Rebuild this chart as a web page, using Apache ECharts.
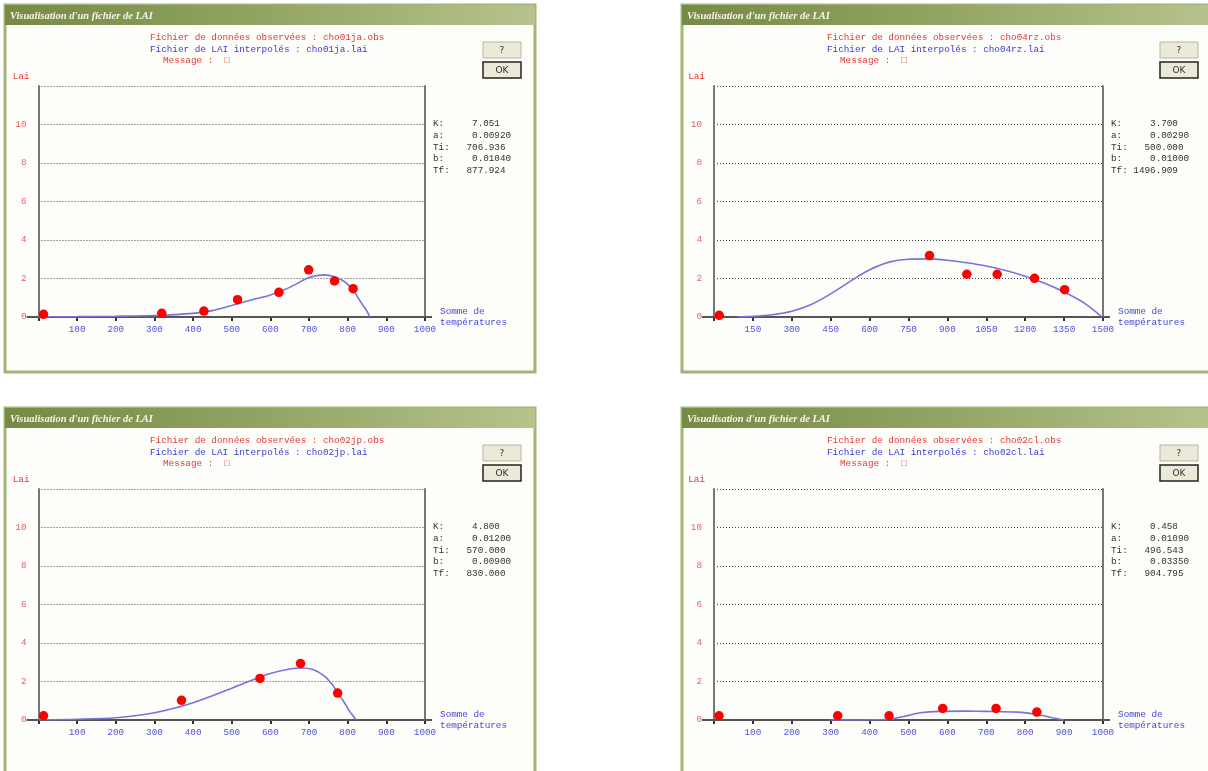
<!DOCTYPE html>
<html>
<head>
<meta charset="utf-8">
<title>Visualisation d'un fichier de LAI</title>
<script src="https://cdn.jsdelivr.net/npm/echarts@6/dist/echarts.min.js"></script>
<style>
  html, body { margin: 0; padding: 0; background: #fff; }
  #main { width: 1208px; height: 771px; }
</style>
</head>
<body>
<div id="main"></div>
<script>
// --- observed LAI (points) : somme de températures / lai ---
const obsT1 = [13, 319, 428, 515, 622, 699, 766, 814];
const obsLai1 = [0.14, 0.19, 0.31, 0.90, 1.28, 2.45, 1.87, 1.47];
const obsT2 = [20, 831, 975, 1092, 1236, 1352];
const obsLai2 = [0.09, 3.19, 2.22, 2.22, 2.01, 1.42];
const obsT3 = [13, 370, 573, 678, 774];
const obsLai3 = [0.22, 1.02, 2.16, 2.93, 1.40];
const obsT4 = [13, 318, 450, 588, 725, 830];
const obsLai4 = [0.22, 0.22, 0.22, 0.60, 0.60, 0.41];

// --- interpolated LAI (curve) ---
const curveT1 = [0, 100, 200, 300, 400, 450, 500, 550, 600, 650, 700, 738, 766, 792, 814, 836, 850, 857];
const curveLai1 = [0.01, 0.02, 0.04, 0.08, 0.19, 0.33, 0.6, 0.88, 1.14, 1.54, 2.05, 2.19, 2.09, 1.83, 1.4, 0.71, 0.3, 0];
const curveT2 = [90, 150, 225, 300, 375, 450, 525, 600, 675, 750, 825, 900, 975, 1050, 1125, 1200, 1275, 1350, 1425, 1497];
const curveLai2 = [0, 0.03, 0.12, 0.3, 0.65, 1.2, 1.85, 2.45, 2.85, 3.0, 3.02, 2.95, 2.82, 2.65, 2.42, 2.12, 1.75, 1.3, 0.75, 0];
const curveT3 = [0, 100, 200, 300, 400, 500, 550, 600, 650, 680, 710, 740, 760, 775, 790, 805, 815, 822];
const curveLai3 = [0.01, 0.04, 0.12, 0.38, 0.9, 1.65, 2.05, 2.42, 2.65, 2.7, 2.62, 2.28, 1.84, 1.4, 0.95, 0.45, 0.2, 0];
const curveT4 = [300, 350, 400, 450, 500, 530, 580, 650, 700, 780, 830, 870, 900];
const curveLai4 = [0, 0, 0.01, 0.04, 0.24, 0.38, 0.45, 0.46, 0.45, 0.41, 0.29, 0.12, 0];

// --- axes ---
const xMax = [1000, 1500, 1000, 1000];
const xStep = [100, 150, 100, 100];
const yMax = 12;
const yStep = 2;

// --- texts ---
const obsFiles = ['cho01ja.obs', 'cho04rz.obs', 'cho02jp.obs', 'cho02cl.obs'];
const laiFiles = ['cho01ja.lai', 'cho04rz.lai', 'cho02jp.lai', 'cho02cl.lai'];
const paramNames = ['K:', 'a:', 'Ti:', 'b:', 'Tf:'];
const params1 = ['7.051', '0.00920', '706.936', '0.01040', '877.924'];
const params2 = ['3.700', '0.00290', '500.000', '0.01000', '1496.909'];
const params3 = ['4.800', '0.01200', '570.000', '0.00900', '830.000'];
const params4 = ['0.458', '0.01090', '496.543', '0.03350', '904.795'];

const obsT = [obsT1, obsT2, obsT3, obsT4];
const obsLai = [obsLai1, obsLai2, obsLai3, obsLai4];
const curveT = [curveT1, curveT2, curveT3, curveT4];
const curveLai = [curveLai1, curveLai2, curveLai3, curveLai4];
const params = [params1, params2, params3, params4];

// window placement (dialog box, plot box)
const PANELS = [
  { x: 5, y: 5, left: 38.5, width: 386.5 },
  { x: 682, y: 5, left: 714, width: 389 },
  { x: 5, y: 408, left: 38.5, width: 386.5 },
  { x: 682, y: 408, left: 714, width: 389 }
];
const PLOT_TOP = 81;
const PLOT_H = 231;

const MONO = '"Liberation Mono", "DejaVu Sans Mono", monospace';
const RED = '#e03a3a';
const BLUE = '#3a3ad8';

const zip = (a, b) => a.map((v, i) => [v, b[i]]);

const paramLine = (name, val) => {
  let pad = name.length === 2 ? 5 : 3;
  if (val.length > 7) pad = 1;
  return name + ' '.repeat(pad) + val;
};

const grids = [], xAxes = [], yAxes = [], series = [], graphics = [];

PANELS.forEach((p, i) => {
  const top = p.y + PLOT_TOP;
  grids.push({ left: p.left, top: top, width: p.width, height: PLOT_H, containLabel: false });

  xAxes.push({
    gridIndex: i, type: 'value', min: 0, max: xMax[i], interval: xStep[i],
    axisLine: { onZero: false, lineStyle: { color: '#555', width: 2 } },
    axisTick: { show: true, length: 4, lineStyle: { color: '#333', width: 2 } },
    axisLabel: {
      color: '#5252e0', fontFamily: MONO, fontSize: 9.3, margin: 8,
      formatter: v => (v === 0 ? '' : String(v))
    },
    splitLine: { show: false },
    name: 'Somme de\ntempératures', nameLocation: 'end', nameGap: 8,
    nameTextStyle: {
      color: '#4646e0', fontFamily: MONO, fontSize: 9.3, lineHeight: 11.5,
      align: 'left', verticalAlign: 'middle', padding: [0, 0, 14, 0]
    }
  });

  yAxes.push({
    gridIndex: i, type: 'value', min: 0, max: yMax, interval: yStep,
    axisLine: { show: true, onZero: false, lineStyle: { color: '#777', width: 2 } },
    axisTick: { show: false },
    axisLabel: {
      color: '#e8606a', fontFamily: MONO, fontSize: 9.3, margin: 12,
      formatter: v => (v === yMax ? '' : String(v))
    },
    splitLine: { show: true, lineStyle: { color: '#444', width: 1, type: [1, 2] } },
    name: 'Lai', nameLocation: 'end', nameGap: 5,
    nameTextStyle: { color: RED, fontFamily: MONO, fontSize: 9.3, align: 'right', padding: [0, 9, 0, 0] }
  });
  yAxes.push({
    gridIndex: i, type: 'value', min: 0, max: yMax, interval: yStep, position: 'right',
    axisLine: { show: true, onZero: false, lineStyle: { color: '#777', width: 2 } },
    axisTick: { show: false }, axisLabel: { show: false }, splitLine: { show: false }
  });

  series.push({
    type: 'line', xAxisIndex: i, yAxisIndex: 2 * i,
    data: zip(curveT[i], curveLai[i]),
    smooth: 0.3, showSymbol: false, silent: true,
    lineStyle: { color: '#7474dc', width: 1.6 }, z: 3
  });
  series.push({
    type: 'scatter', xAxisIndex: i, yAxisIndex: 2 * i,
    data: zip(obsT[i], obsLai[i]),
    symbolSize: 9.5, itemStyle: { color: '#ff0000', opacity: 1 }, z: 4
  });

  // dialog window
  graphics.push({
    type: 'rect', z: -10,
    shape: { x: p.x, y: p.y, width: 530, height: 367 },
    style: { fill: '#fdfdf9', stroke: '#a3b478', lineWidth: 3 }
  });
  graphics.push({
    type: 'rect', z: -9,
    shape: { x: p.x, y: p.y, width: 530, height: 20 },
    style: {
      fill: new echarts.graphic.LinearGradient(0, 0, 1, 0, [
        { offset: 0, color: '#748a45' }, { offset: 0.5, color: '#93a564' }, { offset: 1, color: '#b6c38d' }
      ])
    }
  });
  graphics.push({
    type: 'text', z: 10, x: p.x + 5, y: p.y + 11,
    style: {
      text: "Visualisation d'un fichier de LAI", fill: '#f6f6e6',
      font: 'italic bold 10.5px "Liberation Serif", serif', verticalAlign: 'middle',
      shadowColor: '#3c481c', shadowBlur: 1, shadowOffsetX: 1, shadowOffsetY: 1
    }
  });

  // header lines
  const header = [
    ['Fichier de données observées : ' + obsFiles[i], RED, 145, 33],
    ['Fichier de LAI interpolés : ' + laiFiles[i], BLUE, 145, 44.5],
    ['Message :  \u25A1', RED, 158, 56]
  ];
  header.forEach(h => graphics.push({
    type: 'text', z: 10, x: p.x + h[2], y: p.y + h[3],
    style: { text: h[0], fill: h[1], font: '9.3px ' + MONO, verticalAlign: 'middle' }
  }));

  // buttons
  [['?', 37, '#b8b5a4', 1], ['OK', 57, '#222', 1.5]].forEach(b => {
    graphics.push({
      type: 'rect', z: 10,
      shape: { x: p.x + 478, y: p.y + b[1], width: 38, height: 16 },
      style: { fill: '#ece9d8', stroke: b[2], lineWidth: b[3] }
    });
    graphics.push({
      type: 'text', z: 11, x: p.x + 497, y: p.y + b[1] + 8.5,
      style: { text: b[0], fill: '#333', font: '9px "DejaVu Sans", sans-serif', align: 'center', verticalAlign: 'middle' }
    });
  });

  // model parameters
  paramNames.forEach((n, k) => graphics.push({
    type: 'text', z: 10, x: p.left + p.width + 8, y: top + 38 + k * 11.6,
    style: { text: paramLine(n, params[i][k]), fill: '#333', font: '9.3px ' + MONO, verticalAlign: 'middle' }
  }));
});

const chart = echarts.init(document.getElementById('main'));
chart.setOption({
  backgroundColor: '#ffffff',
  animation: false,
  grid: grids,
  xAxis: xAxes,
  yAxis: yAxes,
  series: series,
  graphic: { elements: graphics }
});

// x axis line runs a little past the plot box on both sides
const ext = [];
PANELS.forEach((p, i) => {
  const a = chart.convertToPixel({ gridIndex: i }, [0, 0]);
  const b = chart.convertToPixel({ gridIndex: i }, [xMax[i], 0]);
  ext.push({ type: 'line', z: 1, shape: { x1: a[0] - 12, y1: a[1], x2: b[0] + 7, y2: b[1] }, style: { stroke: '#555', lineWidth: 2 } });
});
chart.setOption({ graphic: { elements: graphics.concat(ext) } });
</script>
</body>
</html>
